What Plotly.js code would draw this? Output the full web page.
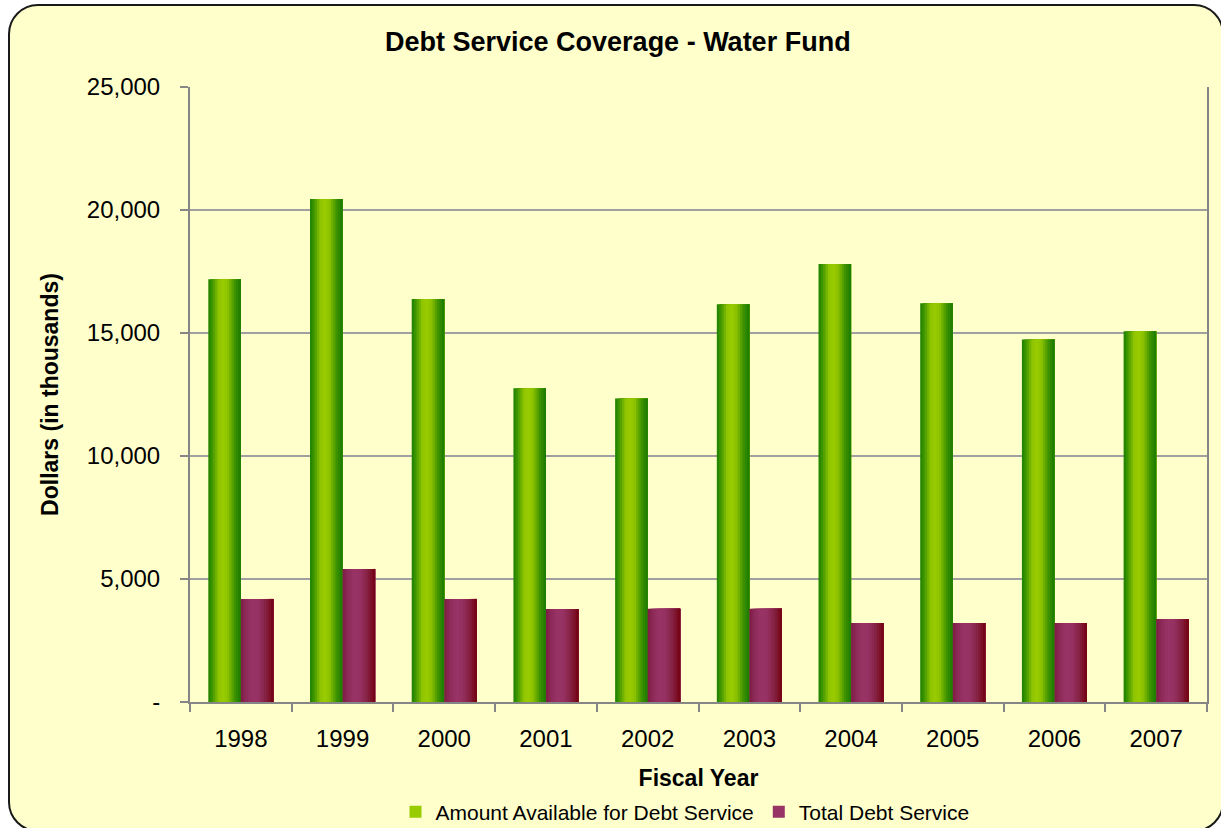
<!DOCTYPE html>
<html>
<head>
<meta charset="utf-8">
<script src="https://cdn.plot.ly/plotly-3.0.1.min.js"></script>
<style>
  html, body { margin: 0; padding: 0; width: 1221px; height: 828px; overflow: hidden; background: #ffffff; }
  #frame { position: absolute; left: 8px; top: 4px; width: 1216px; height: 828px; box-sizing: border-box;
           border: 2px solid #1a1a1a; border-radius: 30px; background: #ffffcc; }
  #chart { position: absolute; left: 0; top: 0; width: 1221px; height: 828px; }
</style>
</head>
<body>
<div id="frame"></div>
<div id="chart"></div>
<script>
// ---- data ----
const years = ["1998", "1999", "2000", "2001", "2002", "2003", "2004", "2005", "2006", "2007"];
const amountAvailable = [17190, 20450, 16380, 12750, 12340, 16170, 17800, 16210, 14740, 15070];
const totalDebtService = [4190, 5410, 4190, 3780, 3790, 3790, 3210, 3210, 3210, 3370];
const seriesNames = ["Amount Available for Debt Service", "Total Debt Service"];
const yTickVals = [0, 5000, 10000, 15000, 20000, 25000];
const yTickText = ["-", "5,000", "10,000", "15,000", "20,000", "25,000"];

// ---- styling helpers (colour ramps for the cylinder-like shading) ----
function hexToRgb(h) { return [parseInt(h.slice(1,3),16), parseInt(h.slice(3,5),16), parseInt(h.slice(5,7),16)]; }
function ramp(stops, t) {
  for (let i = 0; i < stops.length - 1; i++) {
    const a = stops[i], b = stops[i+1];
    if (t >= a[0] && t <= b[0]) {
      const u = (t - a[0]) / (b[0] - a[0]);
      const ca = hexToRgb(a[1]), cb = hexToRgb(b[1]);
      const c = ca.map((v, k) => Math.round(v + (cb[k] - v) * u));
      return 'rgb(' + c.join(',') + ')';
    }
  }
  return stops[stops.length-1][1];
}
const greenStops = [[0, '#1c7f00'], [0.12, '#3f9600'], [0.32, '#8fc400'], [0.45, '#99cc00'], [0.6, '#8cc200'], [0.82, '#3d9200'], [1, '#1a7a00']];
const maroonStops = [[0, '#7e1c44'], [0.15, '#8c2a58'], [0.35, '#993366'], [0.55, '#963163'], [0.78, '#84203f'], [1, '#730010']];

const BAR_W = 0.32;
const SLICES = 14;
const traces = [];
function addSeries(name, values, stops, base, legendSlice) {
  for (let i = 0; i < SLICES; i++) {
    const t = (i + 0.5) / SLICES;
    const start = base + i * BAR_W / SLICES;
    traces.push({
      type: 'bar',
      name: name,
      x: years,
      y: values,
      offset: start,
      width: base + BAR_W - start,
      marker: { color: ramp(stops, t), line: { width: 0 } },
      legendgroup: name,
      showlegend: i === legendSlice,
      hovertemplate: name + '<br>%{x}: %{y:,}<extra></extra>'
    });
  }
}
addSeries(seriesNames[0], amountAvailable, greenStops, -BAR_W, Math.floor(SLICES * 0.45));
addSeries(seriesNames[1], totalDebtService, maroonStops, 0, Math.floor(SLICES * 0.4));

const FONT = 'Liberation Sans, Arial, sans-serif';
const layout = {
  width: 1221,
  height: 828,
  paper_bgcolor: 'rgba(0,0,0,0)',
  plot_bgcolor: 'rgba(0,0,0,0)',
  margin: { l: 190, r: 14, t: 87, b: 126, pad: 0, autoexpand: false },
  barmode: 'overlay',
  font: { family: FONT, color: '#000000', size: 24 },
  title: {
    text: '<b>Debt Service Coverage - Water Fund</b>',
    font: { family: FONT, size: 27, color: '#000000' },
    xref: 'container', x: 0.506, xanchor: 'center',
    yref: 'container', y: 1 - 42/828, yanchor: 'middle'
  },
  xaxis: {
    type: 'category',
    tickson: 'boundaries',
    ticks: 'outside', ticklen: 8, tickwidth: 2, tickcolor: '#868686',
    showline: true, linecolor: '#868686', linewidth: 2,
    showgrid: false,
    automargin: false,
    ticklabelstandoff: 14,
    tickfont: { family: FONT, size: 24, color: '#000000' },
    title: { text: '<b>Fiscal Year</b>', font: { family: FONT, size: 23, color: '#000000' }, standoff: 23 },
    fixedrange: true
  },
  yaxis: {
    range: [0, 25000],
    tickvals: yTickVals,
    ticktext: yTickText,
    ticks: 'outside', ticklen: 8, tickwidth: 2, tickcolor: '#868686',
    showline: true, linecolor: '#868686', linewidth: 2, mirror: true,
    showgrid: true, gridcolor: '#a0a0a0', gridwidth: 1.5,
    zeroline: false,
    automargin: false,
    ticklabelstandoff: 15,
    tickfont: { family: FONT, size: 24, color: '#000000' },
    title: { text: '<b>Dollars (in thousands)</b>', font: { family: FONT, size: 23, color: '#000000' }, standoff: 22 },
    fixedrange: true
  },
  legend: {
    orientation: 'h',
    x: (685 - 190) / 1017, xanchor: 'center',
    yref: 'container',
    y: 1 - 812/828, yanchor: 'middle',
    font: { family: FONT, size: 21, color: '#000000' },
    bgcolor: 'rgba(0,0,0,0)',
    itemwidth: 30,
    traceorder: 'normal'
  },
  showlegend: true
};

Plotly.newPlot('chart', traces, layout, { displayModeBar: false, staticPlot: true });
</script>
</body>
</html>
